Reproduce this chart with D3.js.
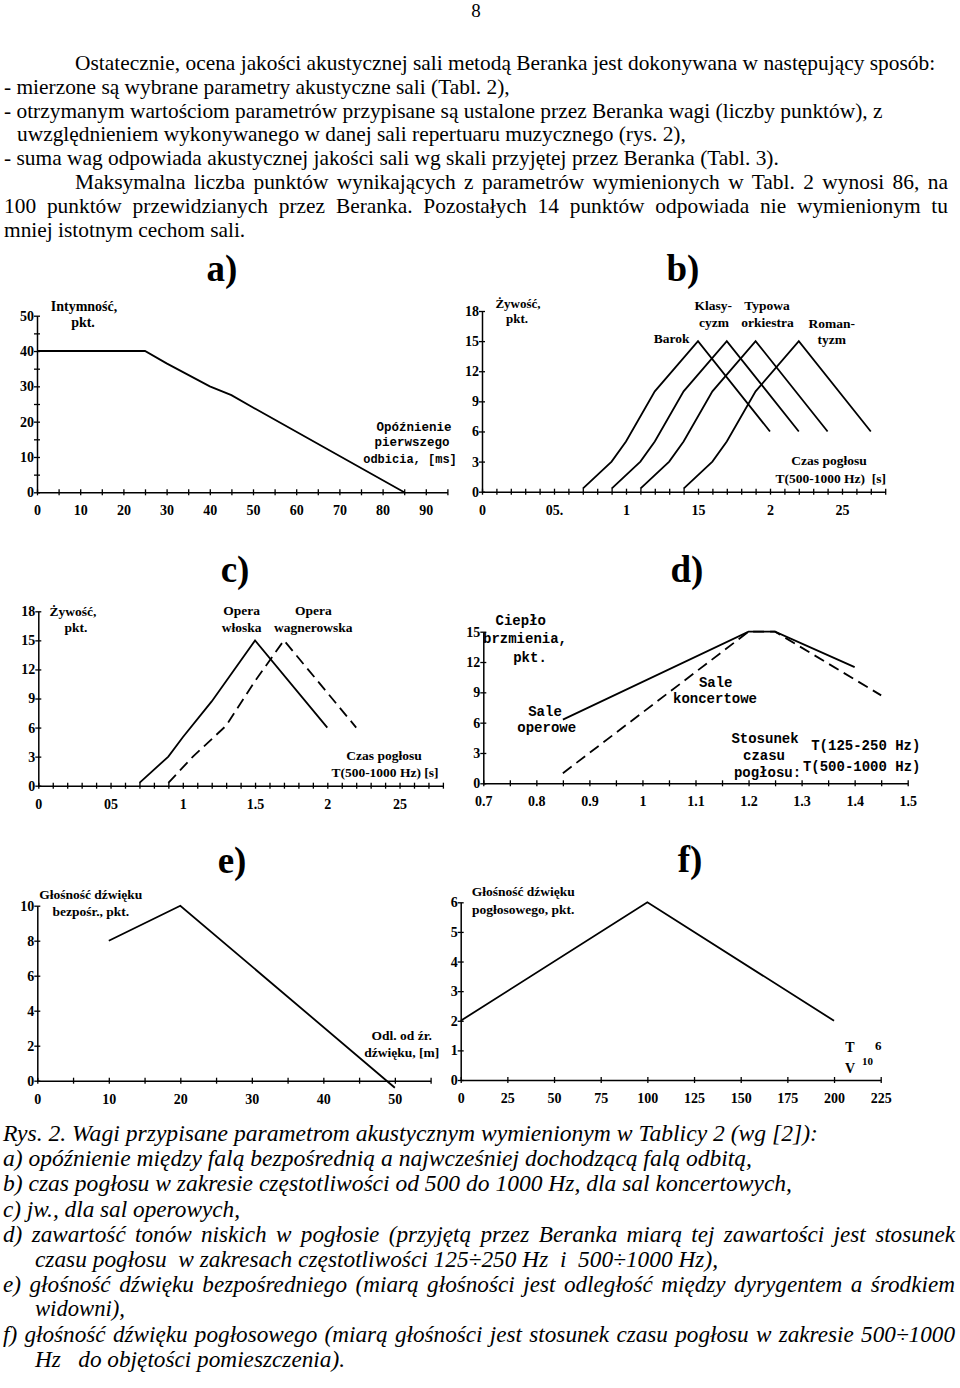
<!DOCTYPE html>
<html><head><meta charset="utf-8">
<script src="https://cdn.jsdelivr.net/npm/d3@7"></script>
<style>
body{margin:0;background:#fff}
svg{display:block}
text{white-space:pre}
</style></head><body>
<svg id="page" width="960" height="1388"></svg>
<script>
// ================= DATA =================
const pageNumber = "8";
const introLines = [
  "Ostatecznie, ocena jakości akustycznej sali metodą Beranka jest dokonywana w następujący sposób:",
  "- mierzone są wybrane parametry akustyczne sali (Tabl. 2),",
  "- otrzymanym wartościom parametrów przypisane są ustalone przez Beranka wagi (liczby punktów), z",
  "uwzględnieniem wykonywanego w danej sali repertuaru muzycznego (rys. 2),",
  "- suma wag odpowiada akustycznej jakości sali wg skali przyjętej przez Beranka (Tabl. 3).",
  "Maksymalna liczba punktów wynikających z parametrów wymienionych w Tabl. 2 wynosi 86, na",
  "100 punktów przewidzianych przez Beranka. Pozostałych 14 punktów odpowiada nie wymienionym tu",
  "mniej istotnym cechom sali."
];
const captionLines = [
  "Rys. 2. Wagi przypisane parametrom akustycznym wymienionym w Tablicy 2 (wg [2]):",
  "a) opóźnienie między falą bezpośrednią a najwcześniej dochodzącą falą odbitą,",
  "b) czas pogłosu w zakresie częstotliwości od 500 do 1000 Hz, dla sal koncertowych,",
  "c) jw., dla sal operowych,",
  "d) zawartość tonów niskich w pogłosie (przyjętą przez Beranka miarą tej zawartości jest stosunek",
  "czasu pogłosu  w zakresach częstotliwości 125÷250 Hz  i  500÷1000 Hz),",
  "e) głośność dźwięku bezpośredniego (miarą głośności jest odległość między dyrygentem a środkiem",
  "widowni),",
  "f) głośność dźwięku pogłosowego (miarą głośności jest stosunek czasu pogłosu w zakresie 500÷1000",
  "Hz   do objętości pomieszczenia)."
];
const panelTitles = ["a)", "b)", "c)", "d)", "e)", "f)"];

// a) Intymność vs opóźnienie
const aDelay = [0, 25, 30, 40, 45, 50, 85];
const aScore = [40, 40, 36.5, 30, 27.5, 24, 0];
const aXLabelValues = [0, 10, 20, 30, 40, 50, 60, 70, 80, 90];
const aXLabels = ["0", "10", "20", "30", "40", "50", "60", "70", "80", "90"];
const aYLabelValues = [0, 10, 20, 30, 40, 50];
const aYLabels = ["0", "10", "20", "30", "40", "50"];
const aTexts = ["Intymność,", "pkt.", "Opóźnienie", "pierwszego", "odbicia, [ms]"];

// b) Żywość – sale koncertowe
const bNames = ["Barok", "Klasycyzm", "Typowa orkiestra", "Romantyzm"];
const bBarokT = [0.7, 0.9, 1.0, 1.2, 1.5, 2.0];
const bBarokP = [0.3, 3, 5, 10, 15, 6];
const bKlasT = [0.9, 1.1, 1.2, 1.4, 1.7, 2.2];
const bKlasP = [0.3, 3, 5, 10, 15, 6];
const bTypT = [1.1, 1.3, 1.4, 1.6, 1.9, 2.4];
const bTypP = [0.3, 3, 5, 10, 15, 6];
const bRomT = [1.4, 1.6, 1.7, 1.9, 2.2, 2.7];
const bRomP = [0.3, 3, 5, 10, 15, 6];
const bXLabelValues = [0, 0.5, 1, 1.5, 2, 2.5];
const bXLabels = ["0", "05.", "1", "15", "2", "25"];
const bYLabelValues = [0, 3, 6, 9, 12, 15, 18];
const bYLabels = ["0", "3", "6", "9", "12", "15", "18"];
const bTexts = ["Żywość,", "pkt.", "Barok", "Klasy-", "cyzm", "Typowa", "orkiestra", "Roman-", "tyzm", "Czas pogłosu", "T(500-1000 Hz)  [s]"];

// c) Żywość – sale operowe
const cWloskaT = [0.7, 0.9, 1.0, 1.2, 1.5, 2.0];
const cWloskaP = [0.3, 3, 5, 8.7, 15, 6];
const cWagnerT = [0.9, 1.07, 1.3, 1.5, 1.7, 2.2];
const cWagnerP = [0.3, 3, 6.2, 10.8, 15, 6];
const cXLabelValues = [0, 0.5, 1, 1.5, 2, 2.5];
const cXLabels = ["0", "05", "1", "1.5", "2", "25"];
const cYLabelValues = [0, 3, 6, 9, 12, 15, 18];
const cYLabels = ["0", "3", "6", "9", "12", "15", "18"];
const cTexts = ["Żywość,", "pkt.", "Opera", "włoska", "Opera", "wagnerowska", "Czas pogłosu", "T(500-1000 Hz) [s]"];

// d) Ciepło brzmienia
const dOperaR = [0.85, 1.2, 1.25, 1.4];
const dOperaP = [6.3, 15, 15, 11.5];
const dKoncR = [0.85, 1.2, 1.25, 1.45];
const dKoncP = [1, 15, 15, 8.7];
const dXLabelValues = [0.7, 0.8, 0.9, 1, 1.1, 1.2, 1.3, 1.4, 1.5];
const dXLabels = ["0.7", "0.8", "0.9", "1", "1.1", "1.2", "1.3", "1.4", "1.5"];
const dYLabelValues = [0, 3, 6, 9, 12, 15];
const dYLabels = ["0", "3", "6", "9", "12", "15"];
const dTexts = ["Ciepło", "brzmienia,", "pkt.", "Sale", "operowe", "Sale", "koncertowe", "Stosunek", "czasu", "pogłosu:", "T(125-250 Hz)", "T(500-1000 Hz)"];

// e) Głośność dźwięku bezpośredniego
const eDist = [10, 20, 50];
const eScore = [8, 10, -0.4];
const eXLabelValues = [0, 10, 20, 30, 40, 50];
const eXLabels = ["0", "10", "20", "30", "40", "50"];
const eYLabelValues = [0, 2, 4, 6, 8, 10];
const eYLabels = ["0", "2", "4", "6", "8", "10"];
const eTexts = ["Głośność dźwięku", "bezpośr., pkt.", "Odl. od źr.", "dźwięku, [m]"];

// f) Głośność dźwięku pogłosowego
const fRatio = [0, 100, 200];
const fScore = [2, 6, 2];
const fXLabelValues = [0, 25, 50, 75, 100, 125, 150, 175, 200, 225];
const fXLabels = ["0", "25", "50", "75", "100", "125", "150", "175", "200", "225"];
const fYLabelValues = [0, 1, 2, 3, 4, 5, 6];
const fYLabels = ["0", "1", "2", "3", "4", "5", "6"];
const fTexts = ["Głośność dźwięku", "pogłosowego, pkt.", "T", "V", "10", "6"];

// ================= LAYOUT / DRAWING =================
const SERIF = "'Liberation Serif','Times New Roman',serif";
const MONO = "'Liberation Mono','Courier New',monospace";
const svg = d3.select("#page");
svg.append("rect").attr("width", 960).attr("height", 1388).attr("fill", "#fff");

// page number
svg.append("text").text(pageNumber).attr("x", 476).attr("y", 17)
  .attr("text-anchor", "middle").attr("font-family", SERIF).attr("font-size", 19);

function justify(sel, target) {
  const n = sel.node().getComputedTextLength();
  const spaces = (sel.text().match(/ /g) || []).length;
  if (spaces > 0 && target > n) sel.attr("word-spacing", (target - n) / spaces);
}

// paragraphs: [x, baseline y, justified right edge or 0]
const introBox = [[75, 70, 0], [4, 94, 0], [4, 117.5, 0], [17, 141, 0], [4, 164.5, 0], [75, 188.5, 948], [4, 212.5, 948], [4, 236.5, 0]];
introLines.forEach((t, i) => {
  const b = introBox[i];
  const s = svg.append("text").text(t).attr("x", b[0]).attr("y", b[1])
    .attr("font-family", SERIF).attr("font-size", 21.4);
  if (b[2]) justify(s, b[2] - b[0]);
});
// caption: [x, baseline y, right edge, justified?]
const captionBox = [[3, 1141, 818, 0], [3, 1166, 752, 0], [3, 1191, 792, 0], [3, 1217, 240, 0], [3, 1242, 955, 1],
                    [35, 1267, 718, 0], [3, 1292, 955, 1], [35, 1316, 125, 0], [3, 1342, 955, 1], [35, 1367, 345, 0]];
captionLines.forEach((t, i) => {
  const b = captionBox[i];
  const s = svg.append("text").text(t).attr("x", b[0]).attr("y", b[1])
    .attr("font-family", SERIF).attr("font-style", "italic").attr("font-size", 23.2);
  if (b[3]) {
    const n = s.node().getComputedTextLength();
    if (n > b[2] - b[0]) s.attr("textLength", b[2] - b[0]).attr("lengthAdjust", "spacingAndGlyphs");
    else justify(s, b[2] - b[0]);
  } else {
    s.attr("textLength", b[2] - b[0]).attr("lengthAdjust", "spacingAndGlyphs");
  }
});

const stepRange = (a, b, s) => d3.range(0, Math.round((b - a) / s) + 1).map(i => +(a + i * s).toFixed(6));

function panel(cfg) {
  const g = svg.append("g");
  const x = d3.scaleLinear().domain(cfg.xDomain).range(cfg.xRange);
  const y = d3.scaleLinear().domain(cfg.yDomain).range(cfg.yRange);
  const fmt = (vals, labs) => d => {
    const i = vals.findIndex(v => Math.abs(v - d) < 1e-6);
    return i >= 0 ? labs[i] : "";
  };
  const gx = g.append("g").attr("transform", `translate(0,${cfg.yRange[0]})`)
    .call(d3.axisBottom(x).tickValues(cfg.xTicks).tickFormat(fmt(cfg.xLabelValues, cfg.xLabels))
      .tickSize(3).tickSizeOuter(0).tickPadding(10));
  const gy = g.append("g").attr("transform", `translate(${cfg.xRange[0]},0)`)
    .call(d3.axisLeft(y).tickValues(cfg.yTicks).tickFormat(fmt(cfg.yLabelValues, cfg.yLabels))
      .tickSize(3).tickSizeOuter(0).tickPadding(0));
  [gx, gy].forEach(a => {
    a.select(".domain").attr("stroke", "#000").attr("stroke-width", 1.5);
    a.selectAll(".tick line").attr("stroke", "#000").attr("stroke-width", 1.3);
    a.selectAll(".tick text").attr("font-family", SERIF).attr("font-weight", "bold")
      .attr("font-size", 14).attr("fill", "#000");
  });
  gx.selectAll(".tick line").attr("y1", -3).attr("y2", 3);
  gy.selectAll(".tick line").attr("x1", -3).attr("x2", 3);

  const line = d3.line().x(d => x(d[0])).y(d => y(d[1]));
  cfg.series.forEach(s => {
    g.append("path").datum(d3.zip(s.x, s.y)).attr("d", line)
      .attr("fill", "none").attr("stroke", "#000").attr("stroke-width", 1.8)
      .attr("stroke-dasharray", s.dashed ? "11,6" : null);
  });

  g.append("text").text(cfg.title).attr("x", cfg.titlePos[0]).attr("y", cfg.titlePos[1])
    .attr("text-anchor", "middle").attr("font-family", SERIF).attr("font-weight", "bold")
    .attr("font-size", 37);

  cfg.texts.forEach((t, i) => {
    const p = cfg.textPos[i];
    g.append("text").text(t).attr("x", p[0]).attr("y", p[1])
      .attr("text-anchor", p[4] || "middle")
      .attr("font-family", p[3] === "mono" ? MONO : SERIF).attr("font-weight", "bold")
      .attr("font-size", p[2]);
  });
}

// a)
panel({
  title: panelTitles[0], titlePos: [222, 281],
  xDomain: [0, 95], xRange: [37, 447.4], yDomain: [0, 50], yRange: [492.3, 315.7],
  xTicks: stepRange(0, 95, 5), xLabelValues: aXLabelValues, xLabels: aXLabels,
  yTicks: stepRange(0, 50, 5), yLabelValues: aYLabelValues, yLabels: aYLabels,
  series: [{x: aDelay, y: aScore}],
  texts: aTexts,
  textPos: [[84, 311, 14], [83, 327, 14], [414, 431, 12.5, "mono"], [412, 446, 12.5, "mono"], [410, 463, 12, "mono"]]
});

// b)
panel({
  title: panelTitles[1], titlePos: [683, 281],
  xDomain: [0, 2.8], xRange: [482, 885.2], yDomain: [0, 18], yRange: [491.7, 311],
  xTicks: stepRange(0, 2.8, 0.1), xLabelValues: bXLabelValues, xLabels: bXLabels,
  yTicks: stepRange(0, 18, 3), yLabelValues: bYLabelValues, yLabels: bYLabels,
  series: [{x: bBarokT, y: bBarokP}, {x: bKlasT, y: bKlasP}, {x: bTypT, y: bTypP}, {x: bRomT, y: bRomP}],
  texts: bTexts,
  textPos: [[518, 307.5, 13], [517, 322.5, 13], [671.7, 342.7, 13.5], [713.3, 310, 13.5], [714, 327, 13.5],
            [767, 310, 13.5], [767.5, 326.5, 13.5], [831.7, 327.7, 13.5], [831.7, 344, 13.5],
            [829, 465, 13.5], [830.7, 483, 13.5]]
});

// c)
panel({
  title: panelTitles[2], titlePos: [235, 582],
  xDomain: [0, 2.8], xRange: [38.3, 442.9], yDomain: [0, 18], yRange: [785.7, 611.3],
  xTicks: stepRange(0, 2.8, 0.1), xLabelValues: cXLabelValues, xLabels: cXLabels,
  yTicks: stepRange(0, 18, 3), yLabelValues: cYLabelValues, yLabels: cYLabels,
  series: [{x: cWloskaT, y: cWloskaP}, {x: cWagnerT, y: cWagnerP, dashed: true}],
  texts: cTexts,
  textPos: [[73, 615.7, 13.5], [76, 631.7, 13.5], [241.7, 615, 13.5], [241.7, 631.7, 13.5],
            [313.3, 615, 13.5], [313.3, 631.7, 13.5], [384, 760, 13.5], [385, 776.7, 13.5]]
});

// d)
panel({
  title: panelTitles[3], titlePos: [687, 582],
  xDomain: [0.7, 1.5], xRange: [483.3, 907.7], yDomain: [0, 15], yRange: [783.3, 631.7],
  xTicks: stepRange(0.7, 1.5, 0.05), xLabelValues: dXLabelValues, xLabels: dXLabels,
  yTicks: stepRange(0, 15, 3), yLabelValues: dYLabelValues, yLabels: dYLabels,
  series: [{x: dOperaR, y: dOperaP}, {x: dKoncR, y: dKoncP, dashed: true}],
  texts: dTexts,
  textPos: [[520.7, 625, 14, "mono"], [525, 642.7, 14, "mono"], [530, 661.7, 14, "mono"],
            [545, 715.7, 14, "mono"], [546.7, 731.7, 14, "mono"], [715.7, 686.7, 14, "mono"],
            [715, 703.3, 14, "mono"], [765, 742.7, 14, "mono"], [764, 760, 14, "mono"],
            [767.5, 776.7, 14, "mono"], [865.8, 750, 14, "mono"], [861.7, 770.7, 14, "mono"]]
});

// e)
panel({
  title: panelTitles[4], titlePos: [232, 873],
  xDomain: [0, 55], xRange: [37.3, 430.6], yDomain: [0, 10], yRange: [1080.7, 905.7],
  xTicks: stepRange(0, 55, 5), xLabelValues: eXLabelValues, xLabels: eXLabels,
  yTicks: stepRange(0, 10, 2), yLabelValues: eYLabelValues, yLabels: eYLabels,
  series: [{x: eDist, y: eScore}],
  texts: eTexts,
  textPos: [[90.8, 899.3, 13.5], [90.8, 916, 13.5], [401.7, 1040, 13.5], [401.7, 1056.7, 13.5]]
});

// f)
panel({
  title: panelTitles[5], titlePos: [690, 872],
  xDomain: [0, 225], xRange: [460.7, 880.7], yDomain: [0, 6], yRange: [1080, 902.3],
  xTicks: stepRange(0, 225, 25), xLabelValues: fXLabelValues, xLabels: fXLabels,
  yTicks: stepRange(0, 6, 1), yLabelValues: fYLabelValues, yLabels: fYLabels,
  series: [{x: fRatio, y: fScore}],
  texts: fTexts,
  textPos: [[523.3, 896, 13.5], [523.3, 914, 13.5], [850, 1051.7, 14], [850, 1073.3, 14],
            [867.5, 1065, 11], [878.3, 1050, 13]]
});
</script>
</body></html>
